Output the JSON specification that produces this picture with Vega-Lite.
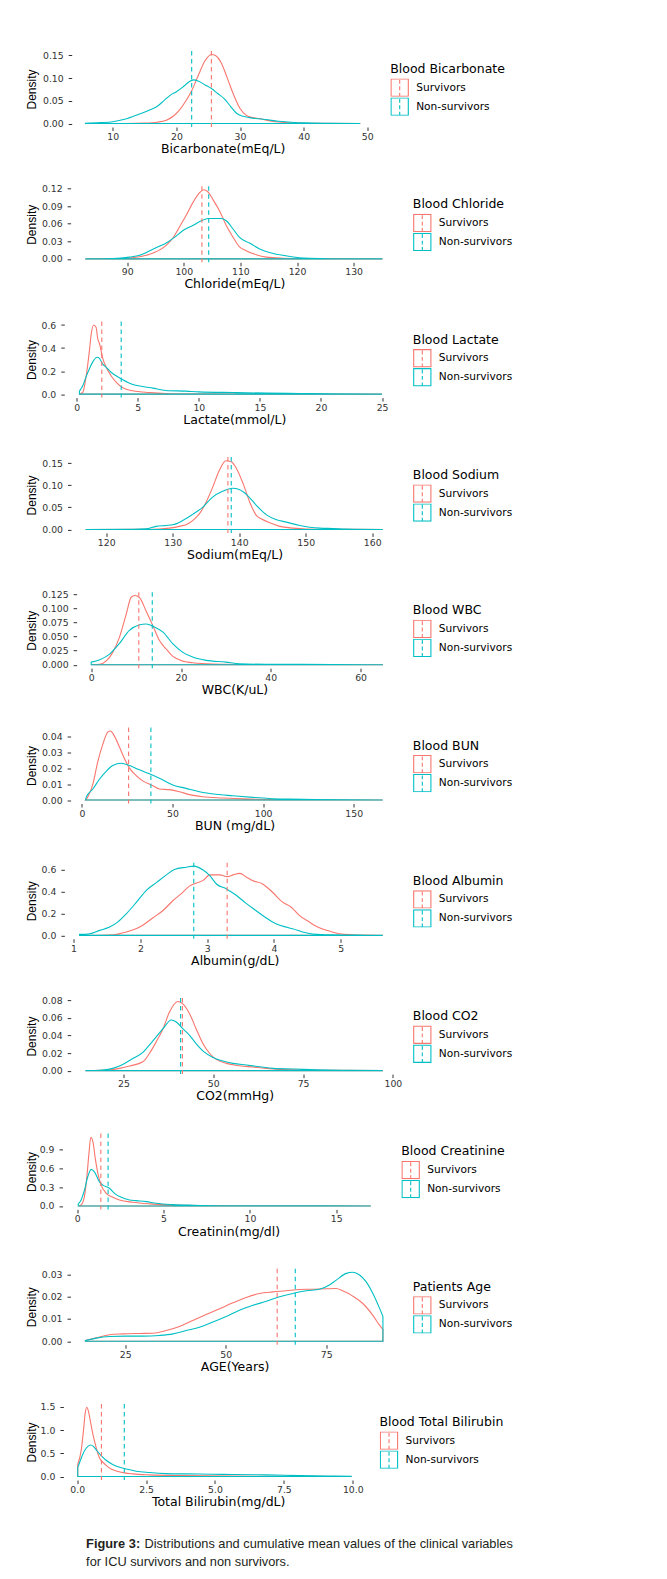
{
"$schema": "https://vega.github.io/schema/vega-lite/v6.json",
"background": "white",
"padding": {"left": 25.5, "top": 46, "right": 5, "bottom": 5},
"columns": 1,
"align": "none",
"spacing": 25.3,
"resolve": {"scale": {"stroke": "independent"}, "legend": {"stroke": "independent"}},
"title": {"text": "Figure 3:", "subtitle": "for ICU survivors and non survivors.", "orient": "bottom", "anchor": "start", "dx": 60.4, "offset": -12.8, "font": "Liberation Sans", "fontSize": 12.8, "fontWeight": "bold", "color": "#231f20", "subtitleFont": "Liberation Sans", "subtitleFontSize": 12.8, "subtitleFontWeight": "normal", "subtitleColor": "#231f20", "subtitlePadding": 4.6},
"datasets": {
"p1": [
{"g":"Survivors","x":5.7,"d":0},{"g":"Survivors","x":12,"d":0.0002},{"g":"Survivors","x":15,"d":0.001},{"g":"Survivors","x":17,"d":0.003},{"g":"Survivors","x":18.5,"d":0.008},{"g":"Survivors","x":19.5,"d":0.016},{"g":"Survivors","x":20.5,"d":0.03},{"g":"Survivors","x":21.5,"d":0.05},{"g":"Survivors","x":22.5,"d":0.075},{"g":"Survivors","x":23.5,"d":0.108},{"g":"Survivors","x":24.5,"d":0.138},{"g":"Survivors","x":25.5,"d":0.152},{"g":"Survivors","x":26.2,"d":0.149},{"g":"Survivors","x":27,"d":0.135},{"g":"Survivors","x":28,"d":0.1},{"g":"Survivors","x":29,"d":0.063},{"g":"Survivors","x":30,"d":0.033},{"g":"Survivors","x":31,"d":0.018},{"g":"Survivors","x":32,"d":0.013},{"g":"Survivors","x":33,"d":0.011},{"g":"Survivors","x":34,"d":0.008},{"g":"Survivors","x":35,"d":0.005},{"g":"Survivors","x":36.5,"d":0.003},{"g":"Survivors","x":39,"d":0.001},{"g":"Survivors","x":42,"d":0.0003},{"g":"Survivors","x":48.9,"d":0},
{"g":"Non-survivors","x":5.7,"d":0.0005},{"g":"Non-survivors","x":8,"d":0.002},{"g":"Non-survivors","x":10,"d":0.004},{"g":"Non-survivors","x":12,"d":0.01},{"g":"Non-survivors","x":14,"d":0.02},{"g":"Non-survivors","x":16,"d":0.031},{"g":"Non-survivors","x":17,"d":0.038},{"g":"Non-survivors","x":18,"d":0.05},{"g":"Non-survivors","x":19,"d":0.062},{"g":"Non-survivors","x":20,"d":0.07},{"g":"Non-survivors","x":21,"d":0.08},{"g":"Non-survivors","x":22,"d":0.092},{"g":"Non-survivors","x":22.7,"d":0.096},{"g":"Non-survivors","x":23.5,"d":0.093},{"g":"Non-survivors","x":24.5,"d":0.085},{"g":"Non-survivors","x":25.5,"d":0.077},{"g":"Non-survivors","x":26.5,"d":0.066},{"g":"Non-survivors","x":27.5,"d":0.055},{"g":"Non-survivors","x":28.5,"d":0.038},{"g":"Non-survivors","x":29.5,"d":0.022},{"g":"Non-survivors","x":30.5,"d":0.016},{"g":"Non-survivors","x":31.5,"d":0.013},{"g":"Non-survivors","x":32.5,"d":0.011},{"g":"Non-survivors","x":34,"d":0.009},{"g":"Non-survivors","x":36,"d":0.005},{"g":"Non-survivors","x":38,"d":0.003},{"g":"Non-survivors","x":40,"d":0.0015},{"g":"Non-survivors","x":44,"d":0.0005},{"g":"Non-survivors","x":48.9,"d":0}],
"p1m": [{"g":"Survivors","x":25.5},{"g":"Non-survivors","x":22.4}],
"p2": [
{"g":"Survivors","x":82.6,"d":0},{"g":"Survivors","x":88.6,"d":0.0003},{"g":"Survivors","x":91,"d":0.002},{"g":"Survivors","x":93.4,"d":0.006},{"g":"Survivors","x":95.1,"d":0.012},{"g":"Survivors","x":96.9,"d":0.023},{"g":"Survivors","x":98.1,"d":0.036},{"g":"Survivors","x":99.2,"d":0.054},{"g":"Survivors","x":100.4,"d":0.074},{"g":"Survivors","x":101.6,"d":0.096},{"g":"Survivors","x":102.8,"d":0.113},{"g":"Survivors","x":103.5,"d":0.118},{"g":"Survivors","x":104.2,"d":0.115},{"g":"Survivors","x":105.1,"d":0.102},{"g":"Survivors","x":106.3,"d":0.082},{"g":"Survivors","x":107.5,"d":0.057},{"g":"Survivors","x":108.7,"d":0.037},{"g":"Survivors","x":109.8,"d":0.021},{"g":"Survivors","x":111,"d":0.014},{"g":"Survivors","x":112.8,"d":0.007},{"g":"Survivors","x":114.6,"d":0.003},{"g":"Survivors","x":117.5,"d":0.001},{"g":"Survivors","x":120.4,"d":0.0003},{"g":"Survivors","x":135.1,"d":0},
{"g":"Non-survivors","x":82.6,"d":0},{"g":"Non-survivors","x":87.5,"d":0.0006},{"g":"Non-survivors","x":90.4,"d":0.003},{"g":"Non-survivors","x":92.2,"d":0.006},{"g":"Non-survivors","x":93.4,"d":0.011},{"g":"Non-survivors","x":95.1,"d":0.019},{"g":"Non-survivors","x":96.9,"d":0.027},{"g":"Non-survivors","x":98.4,"d":0.037},{"g":"Non-survivors","x":99.8,"d":0.048},{"g":"Non-survivors","x":101.6,"d":0.057},{"g":"Non-survivors","x":103.1,"d":0.065},{"g":"Non-survivors","x":104.3,"d":0.069},{"g":"Non-survivors","x":106.6,"d":0.069},{"g":"Non-survivors","x":107.5,"d":0.065},{"g":"Non-survivors","x":108.7,"d":0.051},{"g":"Non-survivors","x":109.8,"d":0.037},{"g":"Non-survivors","x":111.6,"d":0.027},{"g":"Non-survivors","x":113.4,"d":0.017},{"g":"Non-survivors","x":115.1,"d":0.011},{"g":"Non-survivors","x":117.5,"d":0.006},{"g":"Non-survivors","x":120.4,"d":0.002},{"g":"Non-survivors","x":122.2,"d":0.001},{"g":"Non-survivors","x":126.3,"d":0.0002},{"g":"Non-survivors","x":135.1,"d":0}],
"p2m": [{"g":"Survivors","x":103.2},{"g":"Non-survivors","x":104.4}],
"p3": [
{"g":"Survivors","x":0.22,"d":0},{"g":"Survivors","x":0.5,"d":0.017},{"g":"Survivors","x":0.76,"d":0.15},{"g":"Survivors","x":1.04,"d":0.38},{"g":"Survivors","x":1.17,"d":0.51},{"g":"Survivors","x":1.39,"d":0.6},{"g":"Survivors","x":1.58,"d":0.58},{"g":"Survivors","x":1.72,"d":0.48},{"g":"Survivors","x":1.86,"d":0.44},{"g":"Survivors","x":2.13,"d":0.31},{"g":"Survivors","x":2.4,"d":0.235},{"g":"Survivors","x":2.81,"d":0.16},{"g":"Survivors","x":3.22,"d":0.104},{"g":"Survivors","x":3.77,"d":0.055},{"g":"Survivors","x":4.59,"d":0.029},{"g":"Survivors","x":5.95,"d":0.014},{"g":"Survivors","x":7.3,"d":0.006},{"g":"Survivors","x":10,"d":0.002},{"g":"Survivors","x":15.5,"d":0.0005},{"g":"Survivors","x":25,"d":0},
{"g":"Non-survivors","x":0.22,"d":0.026},{"g":"Non-survivors","x":0.5,"d":0.075},{"g":"Non-survivors","x":0.76,"d":0.15},{"g":"Non-survivors","x":1.04,"d":0.22},{"g":"Non-survivors","x":1.31,"d":0.28},{"g":"Non-survivors","x":1.67,"d":0.32},{"g":"Non-survivors","x":1.86,"d":0.31},{"g":"Non-survivors","x":2.13,"d":0.26},{"g":"Non-survivors","x":2.4,"d":0.235},{"g":"Non-survivors","x":2.81,"d":0.19},{"g":"Non-survivors","x":3.22,"d":0.16},{"g":"Non-survivors","x":3.77,"d":0.125},{"g":"Non-survivors","x":4.59,"d":0.084},{"g":"Non-survivors","x":5.4,"d":0.067},{"g":"Non-survivors","x":6.22,"d":0.052},{"g":"Non-survivors","x":7.3,"d":0.032},{"g":"Non-survivors","x":8.95,"d":0.026},{"g":"Non-survivors","x":10,"d":0.02},{"g":"Non-survivors","x":12.8,"d":0.014},{"g":"Non-survivors","x":15.5,"d":0.009},{"g":"Non-survivors","x":18.2,"d":0.006},{"g":"Non-survivors","x":21,"d":0.003},{"g":"Non-survivors","x":25,"d":0}],
"p3m": [{"g":"Survivors","x":2.05},{"g":"Non-survivors","x":3.64}],
"p4": [
{"g":"Survivors","x":116.9,"d":0},{"g":"Survivors","x":126,"d":0.0003},{"g":"Survivors","x":128,"d":0.001},{"g":"Survivors","x":129.5,"d":0.003},{"g":"Survivors","x":131,"d":0.007},{"g":"Survivors","x":132.3,"d":0.013},{"g":"Survivors","x":133.3,"d":0.024},{"g":"Survivors","x":134,"d":0.035},{"g":"Survivors","x":135,"d":0.061},{"g":"Survivors","x":136,"d":0.095},{"g":"Survivors","x":137,"d":0.133},{"g":"Survivors","x":138,"d":0.155},{"g":"Survivors","x":138.8,"d":0.153},{"g":"Survivors","x":139.5,"d":0.14},{"g":"Survivors","x":140.6,"d":0.103},{"g":"Survivors","x":141.6,"d":0.061},{"g":"Survivors","x":142.6,"d":0.031},{"g":"Survivors","x":143.3,"d":0.024},{"g":"Survivors","x":144.6,"d":0.015},{"g":"Survivors","x":146.1,"d":0.007},{"g":"Survivors","x":148.1,"d":0.003},{"g":"Survivors","x":150,"d":0.001},{"g":"Survivors","x":154,"d":0.0003},{"g":"Survivors","x":161.6,"d":0},
{"g":"Non-survivors","x":116.9,"d":0},{"g":"Non-survivors","x":124,"d":0.0005},{"g":"Non-survivors","x":126,"d":0.0015},{"g":"Non-survivors","x":127.5,"d":0.007},{"g":"Non-survivors","x":129,"d":0.009},{"g":"Non-survivors","x":130,"d":0.0105},{"g":"Non-survivors","x":131.5,"d":0.02},{"g":"Non-survivors","x":133,"d":0.034},{"g":"Non-survivors","x":134.5,"d":0.05},{"g":"Non-survivors","x":136,"d":0.073},{"g":"Non-survivors","x":137.5,"d":0.086},{"g":"Non-survivors","x":139,"d":0.093},{"g":"Non-survivors","x":140,"d":0.09},{"g":"Non-survivors","x":141.3,"d":0.076},{"g":"Non-survivors","x":142.6,"d":0.054},{"g":"Non-survivors","x":144.1,"d":0.033},{"g":"Non-survivors","x":145.6,"d":0.022},{"g":"Non-survivors","x":147.1,"d":0.0165},{"g":"Non-survivors","x":149.1,"d":0.009},{"g":"Non-survivors","x":150.6,"d":0.005},{"g":"Non-survivors","x":152.1,"d":0.003},{"g":"Non-survivors","x":154.1,"d":0.0022},{"g":"Non-survivors","x":156.1,"d":0.001},{"g":"Non-survivors","x":161.6,"d":0}],
"p4m": [{"g":"Survivors","x":138.3},{"g":"Non-survivors","x":138.8}],
"p5": [
{"g":"Survivors","x":0,"d":0},{"g":"Survivors","x":1.9,"d":0.0006},{"g":"Survivors","x":3.3,"d":0.0065},{"g":"Survivors","x":4.8,"d":0.022},{"g":"Survivors","x":6.3,"d":0.049},{"g":"Survivors","x":7.8,"d":0.09},{"g":"Survivors","x":8.9,"d":0.12},{"g":"Survivors","x":9.7,"d":0.123},{"g":"Survivors","x":10.8,"d":0.119},{"g":"Survivors","x":12.2,"d":0.096},{"g":"Survivors","x":13.7,"d":0.07},{"g":"Survivors","x":15.2,"d":0.043},{"g":"Survivors","x":16.7,"d":0.028},{"g":"Survivors","x":18.2,"d":0.015},{"g":"Survivors","x":20,"d":0.0077},{"g":"Survivors","x":22.6,"d":0.0035},{"g":"Survivors","x":27.1,"d":0.0012},{"g":"Survivors","x":36,"d":0.0003},{"g":"Survivors","x":65,"d":0},
{"g":"Non-survivors","x":0,"d":0.0047},{"g":"Non-survivors","x":1.9,"d":0.009},{"g":"Non-survivors","x":4.1,"d":0.019},{"g":"Non-survivors","x":6.3,"d":0.038},{"g":"Non-survivors","x":8.5,"d":0.061},{"g":"Non-survivors","x":10.8,"d":0.071},{"g":"Non-survivors","x":12.2,"d":0.0725},{"g":"Non-survivors","x":14.1,"d":0.067},{"g":"Non-survivors","x":16,"d":0.058},{"g":"Non-survivors","x":18.2,"d":0.037},{"g":"Non-survivors","x":20.4,"d":0.022},{"g":"Non-survivors","x":22.6,"d":0.0136},{"g":"Non-survivors","x":25.6,"d":0.0077},{"g":"Non-survivors","x":30,"d":0.0047},{"g":"Non-survivors","x":33,"d":0.0018},{"g":"Non-survivors","x":39,"d":0.0008},{"g":"Non-survivors","x":46.4,"d":0.0006},{"g":"Non-survivors","x":53.8,"d":0.0004},{"g":"Non-survivors","x":65,"d":0}],
"p5m": [{"g":"Survivors","x":10.6},{"g":"Non-survivors","x":13.6}],
"p6": [
{"g":"Survivors","x":2,"d":0},{"g":"Survivors","x":3.3,"d":0.002},{"g":"Survivors","x":6.1,"d":0.01},{"g":"Survivors","x":8.8,"d":0.024},{"g":"Survivors","x":11.6,"d":0.035},{"g":"Survivors","x":14.3,"d":0.0425},{"g":"Survivors","x":15.8,"d":0.0432},{"g":"Survivors","x":18,"d":0.04},{"g":"Survivors","x":20.8,"d":0.033},{"g":"Survivors","x":23.5,"d":0.026},{"g":"Survivors","x":26.3,"d":0.02},{"g":"Survivors","x":30,"d":0.0153},{"g":"Survivors","x":33.6,"d":0.012},{"g":"Survivors","x":39.2,"d":0.009},{"g":"Survivors","x":42.8,"d":0.0069},{"g":"Survivors","x":48.3,"d":0.0065},{"g":"Survivors","x":53.9,"d":0.0052},{"g":"Survivors","x":59.4,"d":0.0034},{"g":"Survivors","x":66.7,"d":0.0021},{"g":"Survivors","x":77.8,"d":0.0013},{"g":"Survivors","x":92.5,"d":0.0006},{"g":"Survivors","x":111,"d":0.0002},{"g":"Survivors","x":166,"d":0},
{"g":"Non-survivors","x":2,"d":0},{"g":"Non-survivors","x":2.5,"d":0.002},{"g":"Non-survivors","x":6.1,"d":0.0069},{"g":"Non-survivors","x":9.7,"d":0.013},{"g":"Non-survivors","x":13.4,"d":0.018},{"g":"Non-survivors","x":17.1,"d":0.0216},{"g":"Non-survivors","x":21.7,"d":0.023},{"g":"Non-survivors","x":26.3,"d":0.0216},{"g":"Non-survivors","x":31.8,"d":0.0189},{"g":"Non-survivors","x":37.3,"d":0.0164},{"g":"Non-survivors","x":42.8,"d":0.0136},{"g":"Non-survivors","x":50.2,"d":0.0094},{"g":"Non-survivors","x":57.5,"d":0.0073},{"g":"Non-survivors","x":64.9,"d":0.0052},{"g":"Non-survivors","x":74.1,"d":0.0036},{"g":"Non-survivors","x":83.3,"d":0.0027},{"g":"Non-survivors","x":94.3,"d":0.0017},{"g":"Non-survivors","x":103.5,"d":0.001},{"g":"Non-survivors","x":114.5,"d":0.0006},{"g":"Non-survivors","x":129,"d":0.0003},{"g":"Non-survivors","x":166,"d":0}],
"p6m": [{"g":"Survivors","x":25.8},{"g":"Non-survivors","x":38.1}],
"p7": [
{"g":"Survivors","x":1.09,"d":0},{"g":"Survivors","x":1.59,"d":0.006},{"g":"Survivors","x":1.79,"d":0.03},{"g":"Survivors","x":1.99,"d":0.075},{"g":"Survivors","x":2.19,"d":0.16},{"g":"Survivors","x":2.34,"d":0.226},{"g":"Survivors","x":2.49,"d":0.317},{"g":"Survivors","x":2.61,"d":0.377},{"g":"Survivors","x":2.74,"d":0.45},{"g":"Survivors","x":2.86,"d":0.48},{"g":"Survivors","x":2.94,"d":0.5},{"g":"Survivors","x":3.04,"d":0.55},{"g":"Survivors","x":3.19,"d":0.55},{"g":"Survivors","x":3.3,"d":0.534},{"g":"Survivors","x":3.39,"d":0.55},{"g":"Survivors","x":3.49,"d":0.564},{"g":"Survivors","x":3.58,"d":0.534},{"g":"Survivors","x":3.68,"d":0.498},{"g":"Survivors","x":3.83,"d":0.468},{"g":"Survivors","x":3.98,"d":0.392},{"g":"Survivors","x":4.13,"d":0.302},{"g":"Survivors","x":4.26,"d":0.256},{"g":"Survivors","x":4.38,"d":0.181},{"g":"Survivors","x":4.53,"d":0.121},{"g":"Survivors","x":4.68,"d":0.069},{"g":"Survivors","x":4.83,"d":0.039},{"g":"Survivors","x":4.98,"d":0.015},{"g":"Survivors","x":5.18,"d":0.006},{"g":"Survivors","x":5.38,"d":0.002},{"g":"Survivors","x":5.63,"d":0},
{"g":"Non-survivors","x":1.09,"d":0.009},{"g":"Non-survivors","x":1.24,"d":0.015},{"g":"Non-survivors","x":1.39,"d":0.045},{"g":"Non-survivors","x":1.54,"d":0.075},{"g":"Non-survivors","x":1.66,"d":0.12},{"g":"Non-survivors","x":1.79,"d":0.196},{"g":"Non-survivors","x":1.94,"d":0.3},{"g":"Non-survivors","x":2.09,"d":0.41},{"g":"Non-survivors","x":2.24,"d":0.48},{"g":"Non-survivors","x":2.39,"d":0.55},{"g":"Non-survivors","x":2.51,"d":0.6},{"g":"Non-survivors","x":2.69,"d":0.62},{"g":"Non-survivors","x":2.8,"d":0.63},{"g":"Non-survivors","x":2.94,"d":0.594},{"g":"Non-survivors","x":3.04,"d":0.543},{"g":"Non-survivors","x":3.14,"d":0.467},{"g":"Non-survivors","x":3.29,"d":0.422},{"g":"Non-survivors","x":3.44,"d":0.362},{"g":"Non-survivors","x":3.58,"d":0.293},{"g":"Non-survivors","x":3.73,"d":0.226},{"g":"Non-survivors","x":3.88,"d":0.16},{"g":"Non-survivors","x":4.03,"d":0.106},{"g":"Non-survivors","x":4.18,"d":0.075},{"g":"Non-survivors","x":4.28,"d":0.06},{"g":"Non-survivors","x":4.43,"d":0.03},{"g":"Non-survivors","x":4.58,"d":0.012},{"g":"Non-survivors","x":4.88,"d":0.004},{"g":"Non-survivors","x":5.38,"d":0.001},{"g":"Non-survivors","x":5.63,"d":0}],
"p7m": [{"g":"Survivors","x":3.3},{"g":"Non-survivors","x":2.8}],
"p8": [
{"g":"Survivors","x":14.4,"d":0},{"g":"Survivors","x":18.3,"d":0.0003},{"g":"Survivors","x":21.1,"d":0.0008},{"g":"Survivors","x":23.9,"d":0.0026},{"g":"Survivors","x":26.7,"d":0.0053},{"g":"Survivors","x":30.4,"d":0.0101},{"g":"Survivors","x":32.2,"d":0.0195},{"g":"Survivors","x":34.1,"d":0.0327},{"g":"Survivors","x":36,"d":0.0477},{"g":"Survivors","x":37.8,"d":0.0665},{"g":"Survivors","x":40.1,"d":0.0785},{"g":"Survivors","x":41.5,"d":0.0759},{"g":"Survivors","x":43.4,"d":0.0646},{"g":"Survivors","x":45.2,"d":0.0477},{"g":"Survivors","x":47.1,"d":0.0308},{"g":"Survivors","x":49,"d":0.0195},{"g":"Survivors","x":50.8,"d":0.0128},{"g":"Survivors","x":53.6,"d":0.0083},{"g":"Survivors","x":57.3,"d":0.0056},{"g":"Survivors","x":61,"d":0.0041},{"g":"Survivors","x":64.7,"d":0.0026},{"g":"Survivors","x":68.5,"d":0.0015},{"g":"Survivors","x":74,"d":0.0008},{"g":"Survivors","x":83.3,"d":0.0003},{"g":"Survivors","x":97.2,"d":0},
{"g":"Non-survivors","x":14.4,"d":0},{"g":"Non-survivors","x":19.2,"d":0.0008},{"g":"Non-survivors","x":22,"d":0.0026},{"g":"Non-survivors","x":24.8,"d":0.0071},{"g":"Non-survivors","x":27.6,"d":0.0139},{"g":"Non-survivors","x":30.4,"d":0.0207},{"g":"Non-survivors","x":32.2,"d":0.029},{"g":"Non-survivors","x":34.1,"d":0.0383},{"g":"Non-survivors","x":36,"d":0.0477},{"g":"Non-survivors","x":38.3,"d":0.0575},{"g":"Non-survivors","x":39.7,"d":0.0552},{"g":"Non-survivors","x":41.5,"d":0.0477},{"g":"Non-survivors","x":43.4,"d":0.0402},{"g":"Non-survivors","x":45.2,"d":0.0308},{"g":"Non-survivors","x":47.6,"d":0.0207},{"g":"Non-survivors","x":49.9,"d":0.015},{"g":"Non-survivors","x":52.7,"d":0.0109},{"g":"Non-survivors","x":55.5,"d":0.0083},{"g":"Non-survivors","x":59.2,"d":0.0064},{"g":"Non-survivors","x":62.9,"d":0.0045},{"g":"Non-survivors","x":66.6,"d":0.0026},{"g":"Non-survivors","x":72.2,"d":0.0019},{"g":"Non-survivors","x":78.7,"d":0.0011},{"g":"Non-survivors","x":88,"d":0.0004},{"g":"Non-survivors","x":97.2,"d":0}],
"p8m": [{"g":"Survivors","x":41.4},{"g":"Non-survivors","x":40.9}],
"p9": [
{"g":"Survivors","x":0.06,"d":0},{"g":"Survivors","x":0.23,"d":0.016},{"g":"Survivors","x":0.42,"d":0.15},{"g":"Survivors","x":0.56,"d":0.46},{"g":"Survivors","x":0.68,"d":0.83},{"g":"Survivors","x":0.79,"d":1.09},{"g":"Survivors","x":0.91,"d":1.02},{"g":"Survivors","x":1.06,"d":0.73},{"g":"Survivors","x":1.22,"d":0.49},{"g":"Survivors","x":1.39,"d":0.33},{"g":"Survivors","x":1.68,"d":0.2},{"g":"Survivors","x":2.07,"d":0.137},{"g":"Survivors","x":2.45,"d":0.095},{"g":"Survivors","x":3.22,"d":0.058},{"g":"Survivors","x":4.19,"d":0.032},{"g":"Survivors","x":5.15,"d":0.016},{"g":"Survivors","x":7.08,"d":0.005},{"g":"Survivors","x":10.9,"d":0.001},{"g":"Survivors","x":17,"d":0},
{"g":"Non-survivors","x":0.06,"d":0.03},{"g":"Non-survivors","x":0.23,"d":0.095},{"g":"Non-survivors","x":0.42,"d":0.25},{"g":"Non-survivors","x":0.62,"d":0.47},{"g":"Non-survivors","x":0.81,"d":0.58},{"g":"Non-survivors","x":1.0,"d":0.54},{"g":"Non-survivors","x":1.29,"d":0.38},{"g":"Non-survivors","x":1.49,"d":0.33},{"g":"Non-survivors","x":1.87,"d":0.28},{"g":"Non-survivors","x":2.16,"d":0.2},{"g":"Non-survivors","x":2.55,"d":0.137},{"g":"Non-survivors","x":3.03,"d":0.095},{"g":"Non-survivors","x":3.42,"d":0.084},{"g":"Non-survivors","x":4.0,"d":0.068},{"g":"Non-survivors","x":4.57,"d":0.042},{"g":"Non-survivors","x":5.54,"d":0.021},{"g":"Non-survivors","x":6.7,"d":0.011},{"g":"Non-survivors","x":9.0,"d":0.003},{"g":"Non-survivors","x":11.9,"d":0.001},{"g":"Non-survivors","x":17,"d":0}],
"p9m": [{"g":"Survivors","x":1.37},{"g":"Non-survivors","x":1.79}],
"p10": [
{"g":"Survivors","x":15.1,"d":0.0003},{"g":"Survivors","x":17.8,"d":0.0015},{"g":"Survivors","x":21.1,"d":0.0029},{"g":"Survivors","x":24.4,"d":0.0033},{"g":"Survivors","x":28.6,"d":0.0035},{"g":"Survivors","x":31.9,"d":0.0036},{"g":"Survivors","x":35.2,"d":0.0048},{"g":"Survivors","x":38.5,"d":0.0066},{"g":"Survivors","x":41.8,"d":0.0093},{"g":"Survivors","x":45.1,"d":0.012},{"g":"Survivors","x":48.5,"d":0.0146},{"g":"Survivors","x":51.8,"d":0.0172},{"g":"Survivors","x":55.1,"d":0.0196},{"g":"Survivors","x":58.4,"d":0.0214},{"g":"Survivors","x":61.7,"d":0.0221},{"g":"Survivors","x":65,"d":0.0226},{"g":"Survivors","x":68.4,"d":0.0232},{"g":"Survivors","x":71.7,"d":0.0233},{"g":"Survivors","x":75,"d":0.0235},{"g":"Survivors","x":77.5,"d":0.0236},{"g":"Survivors","x":79.1,"d":0.0226},{"g":"Survivors","x":81.6,"d":0.0202},{"g":"Survivors","x":84.1,"d":0.0169},{"g":"Survivors","x":86.6,"d":0.0116},{"g":"Survivors","x":88.3,"d":0.0071},{"g":"Survivors","x":89.1,"d":0.0053},
{"g":"Non-survivors","x":15.1,"d":0.0003},{"g":"Non-survivors","x":17.8,"d":0.0014},{"g":"Non-survivors","x":21.1,"d":0.0021},{"g":"Non-survivors","x":25.2,"d":0.0023},{"g":"Non-survivors","x":29.4,"d":0.0023},{"g":"Non-survivors","x":33.5,"d":0.0026},{"g":"Non-survivors","x":36.9,"d":0.0033},{"g":"Non-survivors","x":40.2,"d":0.0048},{"g":"Non-survivors","x":43.5,"d":0.0063},{"g":"Non-survivors","x":46.8,"d":0.0086},{"g":"Non-survivors","x":50.1,"d":0.0111},{"g":"Non-survivors","x":53.4,"d":0.0139},{"g":"Non-survivors","x":56.8,"d":0.0161},{"g":"Non-survivors","x":60.1,"d":0.0179},{"g":"Non-survivors","x":63.4,"d":0.0199},{"g":"Non-survivors","x":66.7,"d":0.0214},{"g":"Non-survivors","x":70,"d":0.0226},{"g":"Non-survivors","x":73.3,"d":0.0233},{"g":"Non-survivors","x":75.8,"d":0.0252},{"g":"Non-survivors","x":77.5,"d":0.0274},{"g":"Non-survivors","x":80,"d":0.0304},{"g":"Non-survivors","x":81.6,"d":0.0309},{"g":"Non-survivors","x":83.3,"d":0.0297},{"g":"Non-survivors","x":84.9,"d":0.0267},{"g":"Non-survivors","x":86.6,"d":0.0214},{"g":"Non-survivors","x":88.3,"d":0.0146},{"g":"Non-survivors","x":89.1,"d":0.0111}],
"p10m": [{"g":"Survivors","x":62.8},{"g":"Non-survivors","x":67.3}],
"p11": [
{"g":"Survivors","x":0.02,"d":0.26},{"g":"Survivors","x":0.15,"d":0.58},{"g":"Survivors","x":0.23,"d":1.0},{"g":"Survivors","x":0.29,"d":1.36},{"g":"Survivors","x":0.35,"d":1.49},{"g":"Survivors","x":0.41,"d":1.4},{"g":"Survivors","x":0.47,"d":1.22},{"g":"Survivors","x":0.54,"d":1.0},{"g":"Survivors","x":0.63,"d":0.76},{"g":"Survivors","x":0.71,"d":0.58},{"g":"Survivors","x":0.81,"d":0.4},{"g":"Survivors","x":0.93,"d":0.31},{"g":"Survivors","x":1.05,"d":0.24},{"g":"Survivors","x":1.23,"d":0.164},{"g":"Survivors","x":1.42,"d":0.121},{"g":"Survivors","x":1.72,"d":0.079},{"g":"Survivors","x":2.02,"d":0.057},{"g":"Survivors","x":2.62,"d":0.036},{"g":"Survivors","x":3.83,"d":0.02},{"g":"Survivors","x":5.65,"d":0.009},{"g":"Survivors","x":8.07,"d":0.003},{"g":"Survivors","x":9.94,"d":0.001},
{"g":"Non-survivors","x":0.02,"d":0.19},{"g":"Non-survivors","x":0.15,"d":0.4},{"g":"Non-survivors","x":0.27,"d":0.56},{"g":"Non-survivors","x":0.39,"d":0.65},{"g":"Non-survivors","x":0.48,"d":0.68},{"g":"Non-survivors","x":0.59,"d":0.65},{"g":"Non-survivors","x":0.71,"d":0.56},{"g":"Non-survivors","x":0.87,"d":0.45},{"g":"Non-survivors","x":1.05,"d":0.35},{"g":"Non-survivors","x":1.29,"d":0.26},{"g":"Non-survivors","x":1.54,"d":0.2},{"g":"Non-survivors","x":1.78,"d":0.164},{"g":"Non-survivors","x":2.14,"d":0.114},{"g":"Non-survivors","x":2.62,"d":0.086},{"g":"Non-survivors","x":3.23,"d":0.064},{"g":"Non-survivors","x":3.95,"d":0.057},{"g":"Non-survivors","x":4.92,"d":0.05},{"g":"Non-survivors","x":5.65,"d":0.043},{"g":"Non-survivors","x":6.86,"d":0.036},{"g":"Non-survivors","x":8.07,"d":0.021},{"g":"Non-survivors","x":9.28,"d":0.01},{"g":"Non-survivors","x":9.94,"d":0.005}],
"p11m": [{"g":"Survivors","x":0.88},{"g":"Non-survivors","x":1.71}]
},
"concat": [
{"width": 302.5, "height": 76, "layer": [
 {"data": {"name": "p1"}, "mark": {"type": "area", "fill": "transparent", "strokeWidth": 1.1, "interpolate": "monotone"},
  "encoding": {
   "x": {"field": "x", "type": "quantitative", "scale": {"domain": [3.51, 51.06], "nice": false, "zero": false}, "axis": {"values": [10, 20, 30, 40, 50], "format": "d", "title": "Bicarbonate(mEq/L)"}},
   "y": {"field": "d", "type": "quantitative", "stack": null, "scale": {"domain": [-0.0076, 0.1596], "nice": false, "zero": false}, "axis": {"values": [0, 0.05, 0.1, 0.15], "format": ".2f", "title": "Density", "minExtent": 33, "maxExtent": 33, "offset": -0.2}},
   "y2": {"datum": 0},
   "stroke": {"field": "g", "type": "nominal", "scale": {"domain": ["Survivors", "Non-survivors"], "range": ["#F8766D", "#00BFC4"]}, "legend": {"title": "Blood Bicarbonate", "orient": "none", "legendX": 301.7, "legendY": -5}}}},
 {"data": {"name": "p1m"}, "mark": {"type": "rule", "strokeDash": [4.5, 3.5], "strokeWidth": 1.1},
  "encoding": {"x": {"field": "x", "type": "quantitative"}, "stroke": {"field": "g", "type": "nominal"}}}
]},
{"width": 325.7, "height": 76, "layer": [
 {"data": {"name": "p2"}, "mark": {"type": "area", "fill": "transparent", "strokeWidth": 1.1, "interpolate": "monotone"},
  "encoding": {
   "x": {"field": "x", "type": "quantitative", "scale": {"domain": [80.16, 137.7], "nice": false, "zero": false}, "axis": {"values": [90, 100, 110, 120, 130], "format": "d", "title": "Chloride(mEq/L)"}},
   "y": {"field": "d", "type": "quantitative", "stack": null, "scale": {"domain": [-0.0059, 0.1239], "nice": false, "zero": false}, "axis": {"values": [0, 0.03, 0.06, 0.09, 0.12], "format": ".2f", "title": "Density", "minExtent": 31.9, "maxExtent": 31.9, "offset": 0.9}},
   "y2": {"datum": 0},
   "stroke": {"field": "g", "type": "nominal", "scale": {"domain": ["Survivors", "Non-survivors"], "range": ["#F8766D", "#00BFC4"]}, "legend": {"title": "Blood Chloride", "orient": "none", "legendX": 324.3, "legendY": -5}}}},
 {"data": {"name": "p2m"}, "mark": {"type": "rule", "strokeDash": [4.5, 3.5], "strokeWidth": 1.1},
  "encoding": {"x": {"field": "x", "type": "quantitative"}, "stroke": {"field": "g", "type": "nominal"}}}
]},
{"width": 325.7, "height": 76, "layer": [
 {"data": {"name": "p3"}, "mark": {"type": "area", "fill": "transparent", "strokeWidth": 1.1, "interpolate": "monotone"},
  "encoding": {
   "x": {"field": "x", "type": "quantitative", "scale": {"domain": [-0.43, 26.24], "nice": false, "zero": false}, "axis": {"values": [0, 5, 10, 15, 20, 25], "format": "d", "title": "Lactate(mmol/L)"}},
   "y": {"field": "d", "type": "quantitative", "stack": null, "scale": {"domain": [-0.03, 0.63], "nice": false, "zero": false}, "axis": {"values": [0, 0.2, 0.4, 0.6], "format": ".1f", "title": "Density", "minExtent": 25.6, "maxExtent": 25.6, "offset": 7.2}},
   "y2": {"datum": 0},
   "stroke": {"field": "g", "type": "nominal", "scale": {"domain": ["Survivors", "Non-survivors"], "range": ["#F8766D", "#00BFC4"]}, "legend": {"title": "Blood Lactate", "orient": "none", "legendX": 324.3, "legendY": -5}}}},
 {"data": {"name": "p3m"}, "mark": {"type": "rule", "strokeDash": [4.5, 3.5], "strokeWidth": 1.1},
  "encoding": {"x": {"field": "x", "type": "quantitative"}, "stroke": {"field": "g", "type": "nominal"}}}
]},
{"width": 326, "height": 76, "layer": [
 {"data": {"name": "p4"}, "mark": {"type": "area", "fill": "transparent", "strokeWidth": 1.1, "interpolate": "monotone"},
  "encoding": {
   "x": {"field": "x", "type": "quantitative", "scale": {"domain": [114.78, 163.8], "nice": false, "zero": false}, "axis": {"values": [120, 130, 140, 150, 160], "format": "d", "title": "Sodium(mEq/L)"}},
   "y": {"field": "d", "type": "quantitative", "stack": null, "scale": {"domain": [-0.0078, 0.1638], "nice": false, "zero": false}, "axis": {"values": [0, 0.05, 0.1, 0.15], "format": ".2f", "title": "Density", "minExtent": 32.3, "maxExtent": 32.3, "offset": 0.5}},
   "y2": {"datum": 0},
   "stroke": {"field": "g", "type": "nominal", "scale": {"domain": ["Survivors", "Non-survivors"], "range": ["#F8766D", "#00BFC4"]}, "legend": {"title": "Blood Sodium", "orient": "none", "legendX": 324.3, "legendY": -5}}}},
 {"data": {"name": "p4m"}, "mark": {"type": "rule", "strokeDash": [4.5, 3.5], "strokeWidth": 1.1},
  "encoding": {"x": {"field": "x", "type": "quantitative"}, "stroke": {"field": "g", "type": "nominal"}}}
]},
{"width": 325.9, "height": 76, "layer": [
 {"data": {"name": "p5"}, "mark": {"type": "area", "fill": "transparent", "strokeWidth": 1.1, "interpolate": "monotone"},
  "encoding": {
   "x": {"field": "x", "type": "quantitative", "scale": {"domain": [-4.39, 68.2], "nice": false, "zero": false}, "axis": {"values": [0, 20, 40, 60], "format": "d", "title": "WBC(K/uL)"}},
   "y": {"field": "d", "type": "quantitative", "stack": null, "scale": {"domain": [-0.00615, 0.129], "nice": false, "zero": false}, "axis": {"values": [0, 0.025, 0.05, 0.075, 0.1, 0.125], "format": ".3f", "title": "Density", "minExtent": 37.9, "maxExtent": 37.9, "offset": -5.1}},
   "y2": {"datum": 0},
   "stroke": {"field": "g", "type": "nominal", "scale": {"domain": ["Survivors", "Non-survivors"], "range": ["#F8766D", "#00BFC4"]}, "legend": {"title": "Blood WBC", "orient": "none", "legendX": 324.3, "legendY": -5}}}},
 {"data": {"name": "p5m"}, "mark": {"type": "rule", "strokeDash": [4.5, 3.5], "strokeWidth": 1.1},
  "encoding": {"x": {"field": "x", "type": "quantitative"}, "stroke": {"field": "g", "type": "nominal"}}}
]},
{"width": 326.1, "height": 76, "layer": [
 {"data": {"name": "p6"}, "mark": {"type": "area", "fill": "transparent", "strokeWidth": 1.1, "interpolate": "monotone"},
  "encoding": {
   "x": {"field": "x", "type": "quantitative", "scale": {"domain": [-5.7, 174.2], "nice": false, "zero": false}, "axis": {"values": [0, 50, 100, 150], "format": "d", "title": "BUN (mg/dL)"}},
   "y": {"field": "d", "type": "quantitative", "stack": null, "scale": {"domain": [-0.00216, 0.0454], "nice": false, "zero": false}, "axis": {"values": [0, 0.01, 0.02, 0.03, 0.04], "format": ".2f", "title": "Density", "minExtent": 31.9, "maxExtent": 31.9, "offset": 0.9}},
   "y2": {"datum": 0},
   "stroke": {"field": "g", "type": "nominal", "scale": {"domain": ["Survivors", "Non-survivors"], "range": ["#F8766D", "#00BFC4"]}, "legend": {"title": "Blood BUN", "orient": "none", "legendX": 324.3, "legendY": -5}}}},
 {"data": {"name": "p6m"}, "mark": {"type": "rule", "strokeDash": [4.5, 3.5], "strokeWidth": 1.1},
  "encoding": {"x": {"field": "x", "type": "quantitative"}, "stroke": {"field": "g", "type": "nominal"}}}
]},
{"width": 326.4, "height": 76, "layer": [
 {"data": {"name": "p7"}, "mark": {"type": "area", "fill": "transparent", "strokeWidth": 1.1, "interpolate": "monotone"},
  "encoding": {
   "x": {"field": "x", "type": "quantitative", "scale": {"domain": [0.969, 5.857], "nice": false, "zero": false}, "axis": {"values": [1, 2, 3, 4, 5], "format": "d", "title": "Albumin(g/dL)"}},
   "y": {"field": "d", "type": "quantitative", "stack": null, "scale": {"domain": [-0.0315, 0.66], "nice": false, "zero": false}, "axis": {"values": [0, 0.2, 0.4, 0.6], "format": ".1f", "title": "Density", "minExtent": 25.7, "maxExtent": 25.7, "offset": 7.1}},
   "y2": {"datum": 0},
   "stroke": {"field": "g", "type": "nominal", "scale": {"domain": ["Survivors", "Non-survivors"], "range": ["#F8766D", "#00BFC4"]}, "legend": {"title": "Blood Albumin", "orient": "none", "legendX": 324.3, "legendY": -5}}}},
 {"data": {"name": "p7m"}, "mark": {"type": "rule", "strokeDash": [4.5, 3.5], "strokeWidth": 1.1},
  "encoding": {"x": {"field": "x", "type": "quantitative"}, "stroke": {"field": "g", "type": "nominal"}}}
]},
{"width": 326.4, "height": 76, "layer": [
 {"data": {"name": "p8"}, "mark": {"type": "area", "fill": "transparent", "strokeWidth": 1.1, "interpolate": "monotone"},
  "encoding": {
   "x": {"field": "x", "type": "quantitative", "scale": {"domain": [10.52, 101.4], "nice": false, "zero": false}, "axis": {"values": [25, 50, 75, 100], "format": "d", "title": "CO2(mmHg)"}},
   "y": {"field": "d", "type": "quantitative", "stack": null, "scale": {"domain": [-0.0039, 0.0824], "nice": false, "zero": false}, "axis": {"values": [0, 0.02, 0.04, 0.06, 0.08], "format": ".2f", "title": "Density", "minExtent": 32, "maxExtent": 32, "offset": 0.8}},
   "y2": {"datum": 0},
   "stroke": {"field": "g", "type": "nominal", "scale": {"domain": ["Survivors", "Non-survivors"], "range": ["#F8766D", "#00BFC4"]}, "legend": {"title": "Blood CO2", "orient": "none", "legendX": 324.3, "legendY": -5}}}},
 {"data": {"name": "p8m"}, "mark": {"type": "rule", "strokeDash": [4.5, 3.5], "strokeWidth": 1.1},
  "encoding": {"x": {"field": "x", "type": "quantitative"}, "stroke": {"field": "g", "type": "nominal"}}}
]},
{"width": 314, "height": 76, "layer": [
 {"data": {"name": "p9"}, "mark": {"type": "area", "fill": "transparent", "strokeWidth": 1.1, "interpolate": "monotone"},
  "encoding": {
   "x": {"field": "x", "type": "quantitative", "scale": {"domain": [-0.329, 17.85], "nice": false, "zero": false}, "axis": {"values": [0, 5, 10, 15], "format": "d", "title": "Creatinin(mg/dl)"}},
   "y": {"field": "d", "type": "quantitative", "stack": null, "scale": {"domain": [-0.055, 1.15], "nice": false, "zero": false}, "axis": {"values": [0, 0.3, 0.6, 0.9], "format": ".1f", "title": "Density", "minExtent": 23.8, "maxExtent": 23.8, "offset": 9}},
   "y2": {"datum": 0},
   "stroke": {"field": "g", "type": "nominal", "scale": {"domain": ["Survivors", "Non-survivors"], "range": ["#F8766D", "#00BFC4"]}, "legend": {"title": "Blood Creatinine", "orient": "none", "legendX": 312.7, "legendY": -5}}}},
 {"data": {"name": "p9m"}, "mark": {"type": "rule", "strokeDash": [4.5, 3.5], "strokeWidth": 1.1},
  "encoding": {"x": {"field": "x", "type": "quantitative"}, "stroke": {"field": "g", "type": "nominal"}}}
]},
{"width": 326.3, "height": 76, "layer": [
 {"data": {"name": "p10"}, "mark": {"type": "area", "fill": "transparent", "strokeWidth": 1.1, "interpolate": "monotone"},
  "encoding": {
   "x": {"field": "x", "type": "quantitative", "scale": {"domain": [11.65, 92.8], "nice": false, "zero": false}, "axis": {"values": [25, 50, 75], "format": "d", "title": "AGE(Years)"}},
   "y": {"field": "d", "type": "quantitative", "stack": null, "scale": {"domain": [-0.00155, 0.0325], "nice": false, "zero": false}, "axis": {"values": [0, 0.01, 0.02, 0.03], "format": ".2f", "title": "Density", "minExtent": 31.8, "maxExtent": 31.8, "offset": 1}},
   "y2": {"datum": 0},
   "stroke": {"field": "g", "type": "nominal", "scale": {"domain": ["Survivors", "Non-survivors"], "range": ["#F8766D", "#00BFC4"]}, "legend": {"title": "Patients Age", "orient": "none", "legendX": 324.3, "legendY": -5}}}},
 {"data": {"name": "p10m"}, "mark": {"type": "rule", "strokeDash": [4.5, 3.5], "strokeWidth": 1.1},
  "encoding": {"x": {"field": "x", "type": "quantitative"}, "stroke": {"field": "g", "type": "nominal"}}}
]},
{"width": 293.4, "height": 76,
 "title": {"text": "Distributions and cumulative mean values of the clinical variables", "orient": "bottom", "anchor": "start", "frame": "group", "dx": 72.9, "offset": 30, "font": "Liberation Sans", "fontSize": 12.8, "fontWeight": "normal", "color": "#231f20"},
 "layer": [
 {"data": {"name": "p11"}, "mark": {"type": "area", "fill": "transparent", "strokeWidth": 1.1, "interpolate": "monotone"},
  "encoding": {
   "x": {"field": "x", "type": "quantitative", "scale": {"domain": [-0.206, 10.44], "nice": false, "zero": false}, "axis": {"values": [0, 2.5, 5, 7.5, 10], "format": ".1f", "title": "Total Bilirubin(mg/dL)"}},
   "y": {"field": "d", "type": "quantitative", "stack": null, "scale": {"domain": [-0.074, 1.56], "nice": false, "zero": false}, "axis": {"values": [0, 0.5, 1, 1.5], "format": ".1f", "title": "Density", "minExtent": 24.7, "maxExtent": 24.7, "offset": 8.1}},
   "y2": {"datum": 0},
   "stroke": {"field": "g", "type": "nominal", "scale": {"domain": ["Survivors", "Non-survivors"], "range": ["#F8766D", "#00BFC4"]}, "legend": {"title": "Blood Total Bilirubin", "orient": "none", "legendX": 291, "legendY": -5}}}},
 {"data": {"name": "p11m"}, "mark": {"type": "rule", "strokeDash": [4.5, 3.5], "strokeWidth": 1.1},
  "encoding": {"x": {"field": "x", "type": "quantitative"}, "stroke": {"field": "g", "type": "nominal"}}}
]}
],
"config": {
 "view": {"stroke": null},
 "axis": {"grid": false, "domain": false, "tickColor": "#333333", "tickSize": 3.5, "tickWidth": 1, "labelFont": "DejaVu Sans", "labelFontSize": 9.3, "labelColor": "#333333", "titleFont": "DejaVu Sans", "titleFontSize": 12.5, "titleFontWeight": "normal", "titleColor": "#000000", "labelFlush": false, "labelOverlap": false},
 "axisX": {"labelPadding": 2.0, "titlePadding": 0.8},
 "axisY": {"labelPadding": 5, "titleFont": "Liberation Sans", "titleFontSize": 12, "titlePadding": 0},
 "legend": {"direction": "vertical", "padding": 17, "titleFont": "DejaVu Sans", "titleFontSize": 12.5, "titleFontWeight": "normal", "titleColor": "#000000", "titlePadding": 3, "labelFont": "DejaVu Sans", "labelFontSize": 10.6, "labelColor": "#000000", "labelOffset": 7, "rowPadding": 0, "clipHeight": 18.3, "symbolSize": 296, "symbolStrokeWidth": 1.1, "symbolType": "M-1,-1L1,-1L1,1L-1,1Z M0,-0.9L0,-0.45 M0,-0.15L0,0.3 M0,0.6L0,0.95", "symbolFillColor": "transparent"}
}
}
